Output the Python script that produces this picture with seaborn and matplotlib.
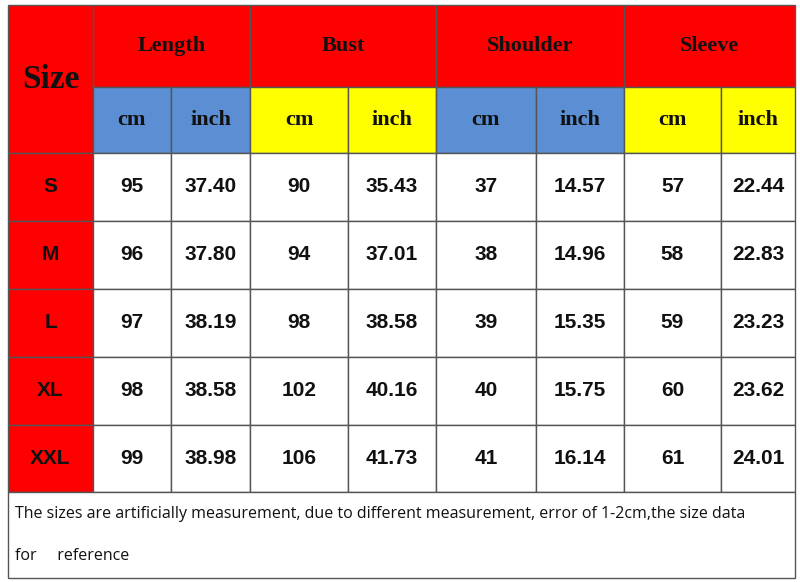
import matplotlib
matplotlib.use("Agg")
import matplotlib.pyplot as plt
from matplotlib.patches import Rectangle
import seaborn as sns

sns.set_theme(style="white")

sizes = ["S", "M", "L", "XL", "XXL"]
groups = ["Length", "Bust", "Shoulder", "Sleeve"]
units = ["cm", "inch"]
length_cm = ["95", "96", "97", "98", "99"]
length_in = ["37.40", "37.80", "38.19", "38.58", "38.98"]
bust_cm = ["90", "94", "98", "102", "106"]
bust_in = ["35.43", "37.01", "38.58", "40.16", "41.73"]
shoulder_cm = ["37", "38", "39", "40", "41"]
shoulder_in = ["14.57", "14.96", "15.35", "15.75", "16.14"]
sleeve_cm = ["57", "58", "59", "60", "61"]
sleeve_in = ["22.44", "22.83", "23.23", "23.62", "24.01"]
note1 = "The sizes are artificially measurement, due to different measurement, error of 1-2cm,the size data"
note2 = "for     reference"

cols = [length_cm, length_in, bust_cm, bust_in, shoulder_cm, shoulder_in, sleeve_cm, sleeve_in]
xs = [8, 93, 171, 250, 348, 436, 536, 624, 721, 795]
ys = [5, 87, 153, 221, 289, 357, 425, 492, 578]
RED = "#FF0000"; BLUE = "#5B8ED2"; YEL = "#FFFF00"; LINE = "#555555"

fig = plt.figure(figsize=(8, 5.82), dpi=100)
ax = fig.add_axes([0, 0, 1, 1])
ax.set_xlim(0, 800); ax.set_ylim(582, 0); ax.axis("off")

def cell(x0, x1, y0, y1, fill, text=None, **kw):
    ax.add_patch(Rectangle((x0, y0), x1 - x0, y1 - y0, facecolor=fill, edgecolor=LINE, lw=1))
    if text is not None:
        ax.text((x0 + x1) / 2, (y0 + y1) / 2, text, ha="center", va="center", **kw)

serif = dict(family="Liberation Serif", weight="bold", color="#111111")
sans = dict(family="Liberation Sans", weight="bold", color="#111111", fontsize=15)

cell(xs[0], xs[1], ys[0], ys[2], RED, "Size", fontsize=24, **serif)
for g, name in enumerate(groups):
    cell(xs[1 + 2 * g], xs[3 + 2 * g], ys[0], ys[1], RED, name, fontsize=16, **serif)
    c = BLUE if g % 2 == 0 else YEL
    for u in range(2):
        cell(xs[1 + 2 * g + u], xs[2 + 2 * g + u], ys[1], ys[2], c, units[u], fontsize=16, **serif)
for r, s in enumerate(sizes):
    cell(xs[0], xs[1], ys[2 + r], ys[3 + r], RED, s, **sans)
    for ci, col in enumerate(cols):
        cell(xs[1 + ci], xs[2 + ci], ys[2 + r], ys[3 + r], "white", col[r], **sans)
ax.add_patch(Rectangle((xs[0], ys[7]), xs[-1] - xs[0], ys[8] - ys[7], facecolor="white", edgecolor=LINE, lw=1))
ax.text(15, 514, note1, ha="left", va="center", family="Open Sans", fontsize=11.5, color="#111111")
ax.text(15, 556, note2, ha="left", va="center", family="Open Sans", fontsize=11.5, color="#111111")

fig.savefig("out.png", dpi=100)
